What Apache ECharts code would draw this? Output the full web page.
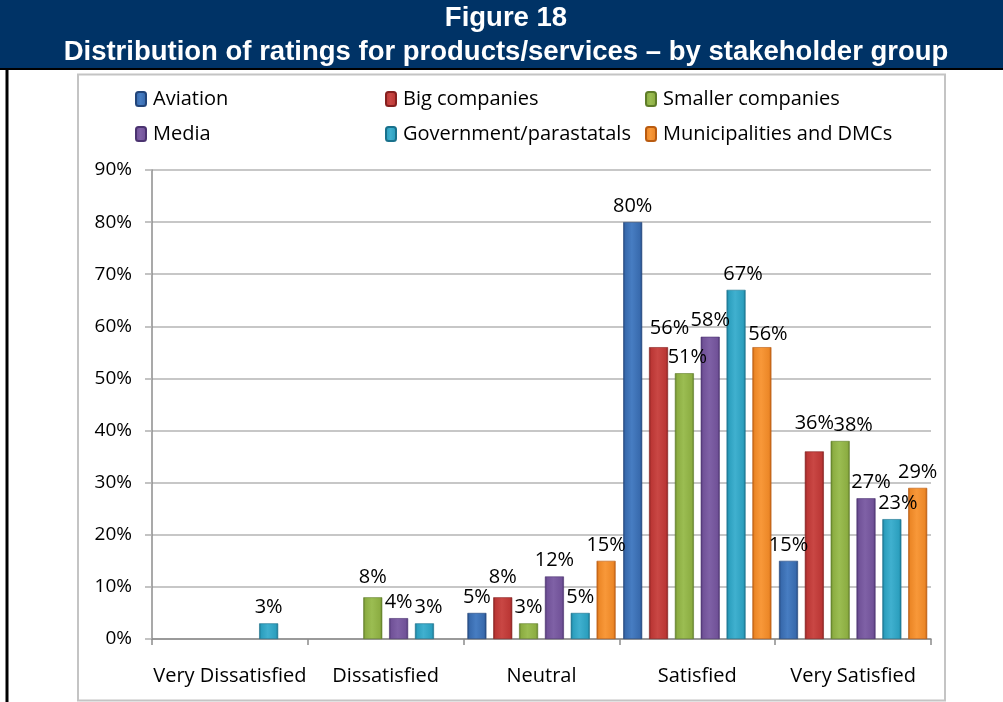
<!DOCTYPE html>
<html>
<head>
<meta charset="utf-8">
<script src="https://cdn.jsdelivr.net/npm/echarts@6/dist/echarts.min.js"></script>
<style>
  html, body { margin: 0; padding: 0; background: #ffffff; }
  #chart { width: 1003px; height: 702px; }
</style>
</head>
<body>
<div id="chart"></div>
<script>
// Rating categories along the x axis
const categories = ['Very Dissatisfied', 'Dissatisfied', 'Neutral', 'Satisfied', 'Very Satisfied'];

// Share of each stakeholder group (percent) per rating
const aviation      = [0, 0, 5, 80, 15];
const bigCompanies  = [0, 0, 8, 56, 36];
const smallerCos    = [0, 8, 3, 51, 38];
const media         = [0, 4, 12, 58, 27];
const government    = [3, 3, 5, 67, 23];
const municipal     = [0, 0, 15, 56, 29];

const seriesNames = ['Aviation', 'Big companies', 'Smaller companies', 'Media',
                     'Government/parastatals', 'Municipalities and DMCs'];
const seriesValues = [aviation, bigCompanies, smallerCos, media, government, municipal];

// Y axis ticks (percent)
const yMax = 90;
const yStep = 10;

const FONT = 'Open Sans';

// [edge, mid, highlight] shades for the bevelled bars
const shades = [
  ['#22457a', '#386aad', '#477dc2'],
  ['#86201f', '#bb3735', '#c94744'],
  ['#5f7d29', '#8cad42', '#9bbd52'],
  ['#4b3370', '#715298', '#7f61a6'],
  ['#19718c', '#2c9fbe', '#40b0cf'],
  ['#b95b10', '#ec8727', '#f89839']
];

function barFill(s) {
  return new echarts.graphic.LinearGradient(0, 0, 1, 0, [
    { offset: 0, color: s[0] },
    { offset: 0.12, color: s[1] },
    { offset: 0.45, color: s[2] },
    { offset: 0.88, color: s[1] },
    { offset: 1, color: s[0] }
  ]);
}

// Hand-placed label nudges where neighbouring labels would collide: "series,category" -> [dx, dy]
const labelNudge = {
  '1,2': [0, -4], '2,1': [0, -4], '4,1': [4, 0],
  '1,3': [11, -3], '2,3': [3, 0], '4,3': [7, 0], '5,3': [6, 3],
  '1,4': [0, -12], '2,4': [13, 0], '3,4': [5, 0], '4,4': [6, 0]
};

const legendCols = [135, 385, 645];
const legendRows = [89, 124];

const legends = seriesNames.map((name, i) => ({
  data: [name],
  left: legendCols[i % 3],
  top: legendRows[Math.floor(i / 3)],
  padding: 0,
  itemWidth: 10,
  itemHeight: 14,
  itemGap: 0,
  selectedMode: false,
  textStyle: { fontFamily: FONT, fontSize: 20, color: '#000', padding: [0, 0, 0, 2] }
}));

const series = seriesNames.map((name, i) => ({
  name: name,
  type: 'bar',
  data: seriesValues[i].map((v, j) => {
    const n = labelNudge[i + ',' + j];
    const item = { value: v > 0 ? v : null };
    if (n) item.label = { offset: n };
    return item;
  }),
  barWidth: 19,
  barGap: '36%',
  barCategoryGap: '5%',
  itemStyle: {
    color: barFill(shades[i]),
    borderColor: shades[i][0],
    borderWidth: 0.6
  },
  label: {
    show: true,
    position: 'top',
    distance: 6,
    fontFamily: FONT,
    fontSize: 20,
    color: '#000',
    formatter: p => (p.value > 0 ? p.value + '%' : '')
  }
}));

const chart = echarts.init(document.getElementById('chart'), null, { renderer: 'canvas' });

chart.setOption({
  animation: false,
  backgroundColor: '#ffffff',
  legend: legends,
  grid: { left: 152, right: 72, top: 170, bottom: 63 },
  xAxis: {
    type: 'category',
    data: categories,
    axisLine: { lineStyle: { color: '#8c8c8c', width: 1.5 } },
    axisTick: { show: true, length: 6, lineStyle: { color: '#8c8c8c', width: 1.5 } },
    axisLabel: { interval: 0, fontFamily: FONT, fontSize: 20, color: '#000', margin: 27 }
  },
  yAxis: {
    type: 'value',
    min: 0,
    max: yMax,
    interval: yStep,
    axisLine: { show: true, lineStyle: { color: '#8c8c8c', width: 1.5 } },
    axisTick: { show: true, length: 7, lineStyle: { color: '#b0b0b0', width: 1.5 } },
    splitLine: { lineStyle: { color: '#b4b4b4', width: 1.5 } },
    axisLabel: { fontFamily: FONT, fontSize: 19, color: '#000', margin: 20,
                 formatter: v => v + '%' }
  },
  series: series,
  graphic: [
    { type: 'rect', z: 0, shape: { x: 0, y: 0, width: 1003, height: 68 },
      style: { fill: '#003366' } },
    { type: 'line', z: 1, shape: { x1: 0, y1: 69, x2: 1003, y2: 69 },
      style: { stroke: '#000', lineWidth: 2 } },
    { type: 'line', z: 1, shape: { x1: 7, y1: 68, x2: 7, y2: 702 },
      style: { stroke: '#000', lineWidth: 3 } },
    { type: 'rect', z: 0, shape: { x: 78, y: 74.5, width: 867, height: 626 },
      style: { fill: 'none', stroke: '#c4c4c4', lineWidth: 2 } },
    { type: 'text', z: 2, x: 506, y: 18,
      style: { text: 'Figure 18', fill: '#fff', font: 'bold 27.5px "Liberation Sans", Arial',
               textAlign: 'center', textVerticalAlign: 'middle' } },
    { type: 'text', z: 2, x: 506, y: 52,
      style: { text: 'Distribution of ratings for products/services \u2013 by stakeholder group',
               fill: '#fff', font: 'bold 27.5px "Liberation Sans", Arial',
               textAlign: 'center', textVerticalAlign: 'middle' } }
  ]
});
</script>
</body>
</html>
